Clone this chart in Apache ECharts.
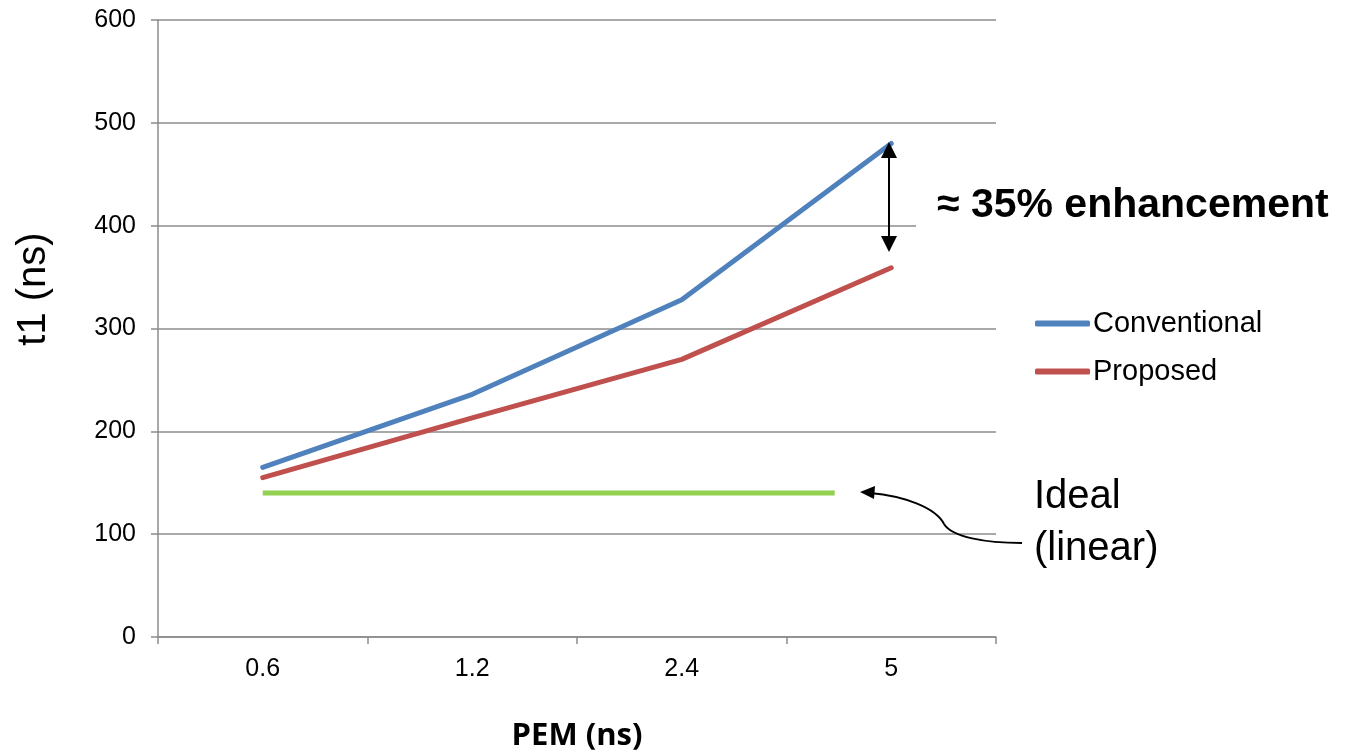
<!DOCTYPE html>
<html>
<head>
<meta charset="utf-8">
<script src="https://cdn.jsdelivr.net/npm/echarts@6/dist/echarts.min.js"></script>
<style>
html,body{margin:0;padding:0;background:#fff;}
#c{width:1346px;height:754px;}
</style>
</head>
<body>
<div id="c"></div>
<script>
// ---- data ----
const categories = ['0.6', '1.2', '2.4', '5'];
const conventional = [165, 236, 328, 480];
const proposed = [155, 213, 270, 359];
// ideal line: [x in category-index units, value]
const idealStart = [0, 140];
const idealEnd = [2.73, 140];
const yTicks = { min: 0, max: 600, interval: 100 };

const FONT = '"Liberation Sans", Arial, sans-serif';
const GRID = '#8c8c8c';

const chart = echarts.init(document.getElementById('c'));
chart.setOption({
  animation: false,
  backgroundColor: '#fff',
  grid: { left: 158, right: 350, top: 20, bottom: 117, containLabel: false },
  legend: {
    data: ['Conventional', 'Proposed'],
    orient: 'vertical',
    left: 1035,
    top: 309,
    padding: 0,
    itemWidth: 55,
    itemHeight: 6,
    itemGap: 19,
    icon: 'roundRect',
    textStyle: { fontFamily: FONT, fontSize: 29, color: '#000', padding: [0, 0, 0, -2] }
  },
  xAxis: [
    {
      type: 'category',
      data: categories,
      boundaryGap: true,
      axisLine: { show: true, onZero: false, lineStyle: { color: GRID, width: 1.5 } },
      axisTick: { show: true, length: 7, lineStyle: { color: GRID, width: 1.5 } },
      axisLabel: { fontFamily: FONT, fontSize: 25, color: '#000', margin: 20 },
      splitLine: { show: false }
    },
    {
      type: 'value',
      min: -0.5,
      max: 3.5,
      show: false
    }
  ],
  yAxis: {
    type: 'value',
    min: yTicks.min,
    max: yTicks.max,
    interval: yTicks.interval,
    axisLine: { show: true, onZero: false, lineStyle: { color: GRID, width: 1.5 } },
    axisTick: { show: true, length: 7, lineStyle: { color: GRID, width: 1.5 } },
    axisLabel: { fontFamily: FONT, fontSize: 25, color: '#000', margin: 22 },
    splitLine: { show: true, lineStyle: { color: GRID, width: 1.5 } }
  },
  series: [
    {
      name: 'Conventional',
      type: 'line',
      data: conventional,
      symbol: 'none',
      color: '#4F81BD',
      lineStyle: { width: 5, cap: 'round', join: 'round' },
      z: 3
    },
    {
      name: 'Proposed',
      type: 'line',
      data: proposed,
      symbol: 'none',
      color: '#C0504D',
      lineStyle: { width: 5, cap: 'round', join: 'round' },
      z: 3
    },
    {
      name: 'Ideal',
      type: 'line',
      xAxisIndex: 1,
      data: [idealStart, idealEnd],
      symbol: 'none',
      color: '#92D050',
      lineStyle: { width: 5, cap: 'butt' },
      z: 2
    }
  ],
  graphic: [
    // y-axis title
    {
      type: 'text',
      x: 34, y: 289,
      rotation: Math.PI / 2,
      style: { text: 't1 (ns)', font: '40px ' + FONT, fill: '#000', align: 'center', verticalAlign: 'middle' }
    },
    // x-axis title
    {
      type: 'text',
      x: 577, y: 736,
      style: { text: 'PEM (ns)', font: 'bold 31px "Open Sans", sans-serif', fill: '#000', align: 'center', verticalAlign: 'middle' }
    },
    // enhancement text (white box hides gridline)
    {
      type: 'text',
      x: 916, y: 206,
      z: 10,
      style: {
        text: '\u2248 35% enhancement',
        font: 'bold 41px ' + FONT,
        fill: '#000',
        align: 'left',
        verticalAlign: 'middle',
        backgroundColor: '#fff',
        padding: [2, 0, 2, 21]
      }
    },
    // double arrow
    {
      type: 'line', z: 10,
      shape: { x1: 889, y1: 150, x2: 889, y2: 244 },
      style: { stroke: '#000', lineWidth: 2 }
    },
    {
      type: 'polygon', z: 10,
      shape: { points: [[889, 142], [881, 158], [897, 158]] },
      style: { fill: '#000' }
    },
    {
      type: 'polygon', z: 10,
      shape: { points: [[889, 252], [881, 236], [897, 236]] },
      style: { fill: '#000' }
    },
    // Ideal (linear) label
    {
      type: 'text',
      x: 1034, y: 497,
      style: { text: 'Ideal', font: '40px ' + FONT, fill: '#000', align: 'left', verticalAlign: 'middle' }
    },
    {
      type: 'text',
      x: 1034, y: 549,
      style: { text: '(linear)', font: '40px ' + FONT, fill: '#000', align: 'left', verticalAlign: 'middle' }
    },
    // curved arrow
    {
      type: 'bezierCurve', z: 10,
      shape: { x1: 1022, y1: 543, cpx1: 985, cpy1: 543, cpx2: 952, cpy2: 537, x2: 944, y2: 524 },
      style: { stroke: '#000', lineWidth: 2, fill: null }
    },
    {
      type: 'bezierCurve', z: 10,
      shape: { x1: 944, y1: 524, cpx1: 936, cpy1: 508, cpx2: 905, cpy2: 496, x2: 870, y2: 493 },
      style: { stroke: '#000', lineWidth: 2, fill: null }
    },
    {
      type: 'polygon', z: 10,
      shape: { points: [[860, 492], [875, 486], [874, 499]] },
      style: { fill: '#000' }
    }
  ]
});
</script>
</body>
</html>
